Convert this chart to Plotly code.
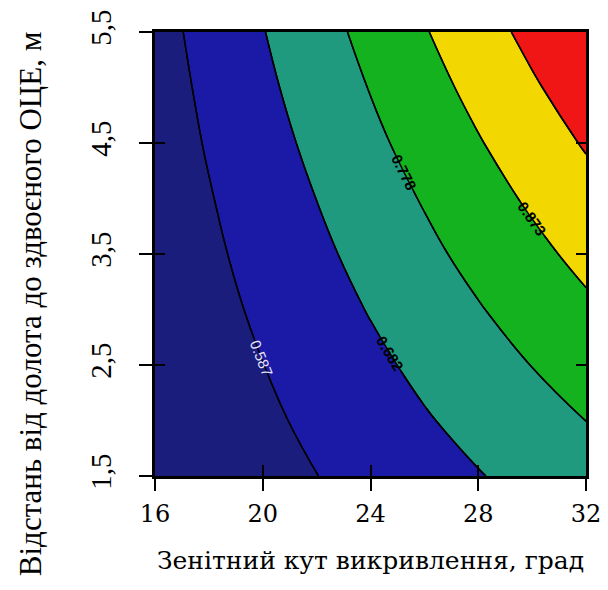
import plotly.graph_objects as go

# Grid read/
x_vals = [16, 18, 20, 22, 24, 26, 28, 30, 32]
y_vals = [1.5, 2.0, 2.5, 3.0, 3.5, 4.0, 4.5, 5.0, 5.5]
z_rows = [
    [0.494, 0.525, 0.555, 0.586, 0.616, 0.647, 0.678, 0.708, 0.739],
    [0.502, 0.536, 0.571, 0.605, 0.640, 0.675, 0.709, 0.744, 0.778],
    [0.509, 0.548, 0.586, 0.625, 0.663, 0.702, 0.741, 0.779, 0.818],
    [0.517, 0.559, 0.602, 0.644, 0.687, 0.729, 0.772, 0.815, 0.857],
    [0.524, 0.571, 0.617, 0.664, 0.710, 0.757, 0.804, 0.850, 0.897],
    [0.532, 0.582, 0.633, 0.683, 0.734, 0.784, 0.835, 0.886, 0.936],
    [0.539, 0.594, 0.648, 0.703, 0.758, 0.812, 0.867, 0.921, 0.976],
    [0.547, 0.605, 0.664, 0.722, 0.781, 0.840, 0.898, 0.957, 1.015],
    [0.554, 0.617, 0.679, 0.742, 0.804, 0.867, 0.930, 0.992, 1.055],
]
level_start = 0.58701
level_end = 0.96801
level_step = 0.09525

x_ticks = [16, 20, 24, 28, 32]
y_ticks = [1.5, 2.5, 3.5, 4.5, 5.5]
y_ticktext = ["1,5", "2,5", "3,5", "4,5", "5,5"]

band_colors = ["#1a1d7c", "#1a1aa6", "#1f9a7e", "#14b21e", "#f2d800", "#f01616"]

x_title = "Зенітний кут викривлення, град"
y_title = "Відстань від долота до здвоєного ОЦЕ, м"

n = len(band_colors)
cscale = []
for i, c in enumerate(band_colors):
    cscale.append([i / n, c])
    cscale.append([(i + 1) / n, c])

fig = go.Figure()
fig.add_trace(go.Contour(
    x=x_vals, y=y_vals, z=z_rows,
    contours=dict(start=level_start, end=level_end, size=level_step,
                  coloring="fill", showlabels=False),
    colorscale=cscale, showscale=False,
    line=dict(color="black", width=1.5, smoothing=1.3),
    hoverinfo="skip",
))
fig.add_trace(go.Contour(
    x=x_vals, y=y_vals, z=z_rows,
    contours=dict(start=level_start + level_step, end=level_end, size=level_step,
                  coloring="none", showlabels=True, labelformat=".3f",
                  labelfont=dict(family="Liberation Sans", size=15, color="black", weight="bold")),
    showscale=False,
    line=dict(color="black", width=1.5, smoothing=1.3),
    hoverinfo="skip", xaxis="x2", yaxis="y2",
))
fig.add_trace(go.Contour(
    x=x_vals, y=y_vals, z=z_rows,
    contours=dict(start=level_start, end=level_start, size=level_step,
                  coloring="none", showlabels=True, labelformat=".3f",
                  labelfont=dict(family="Liberation Sans", size=15, color="#ece4ff")),
    showscale=False,
    line=dict(color="black", width=1.5, smoothing=1.3),
    hoverinfo="skip", xaxis="x2", yaxis="y3",
))

xtickfont = dict(family="DejaVu Serif", size=24, color="black")
ytickfont = dict(family="Liberation Serif", size=29, color="black")
fig.update_layout(
    width=600, height=582,
    margin=dict(l=147, r=22, t=24, b=114),
    paper_bgcolor="white", plot_bgcolor="white",
    showlegend=False,
    xaxis=dict(range=[16, 32], tickvals=x_ticks, ticks="outside", ticklen=12,
               tickwidth=2, tickcolor="black", showline=True, linecolor="black",
               linewidth=2.5, mirror=True, showgrid=False, zeroline=False,
               automargin=False, tickfont=xtickfont, ticklabelstandoff=2,
               title=dict(text=x_title, font=dict(family="DejaVu Serif", size=25, color="black"),
                          standoff=25)),
    yaxis=dict(range=[1.5, 5.5], tickvals=y_ticks, ticktext=y_ticktext, tickangle=-90,
               ticks="outside", ticklen=13, tickwidth=2, tickcolor="black",
               showline=True, linecolor="black", linewidth=2.5, mirror=True,
               showgrid=False, zeroline=False, automargin=False, tickfont=ytickfont,
               ticklabelstandoff=17),
    xaxis2=dict(range=[16, 32], overlaying="x", matches="x", side="bottom",
                tickvals=x_ticks, ticks="inside", ticklen=11, tickwidth=2,
                tickcolor="black", showticklabels=False, showgrid=False,
                zeroline=False, showline=False, automargin=False),
    yaxis2=dict(range=[1.5, 5.5], overlaying="y", matches="y", side="left",
                tickvals=y_ticks, ticks="inside", ticklen=10, tickwidth=2,
                tickcolor="black", showticklabels=False, showgrid=False,
                zeroline=False, showline=False, automargin=False),
    yaxis3=dict(range=[1.5, 5.5], overlaying="y", matches="y", side="right",
                tickvals=y_ticks, ticks="inside", ticklen=10, tickwidth=2,
                tickcolor="black", showticklabels=False, showgrid=False,
                zeroline=False, showline=False, automargin=False),
    annotations=[dict(text=y_title, textangle=-90, xref="paper", yref="paper",
                      x=-0.29, y=0.387, xanchor="center", yanchor="middle",
                      showarrow=False,
                      font=dict(family="Liberation Serif", size=31, color="black"))],
)

fig.write_html("out.html")
